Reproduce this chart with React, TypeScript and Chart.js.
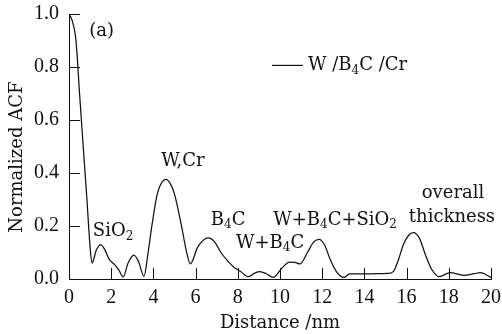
import { useEffect, useRef } from "react";
import { Chart, registerables } from "chart.js";

Chart.register(...registerables);

// Distance (nm) and normalized autocorrelation of the W/B4C/Cr multilayer
const distance = [
  0, 0.15, 0.33, 0.5, 0.7, 0.85, 1.0, 1.09, 1.3, 1.5, 1.7, 1.9, 2.15, 2.35, 2.57,
  2.8, 3.08, 3.3, 3.55, 3.75, 3.92, 4.19, 4.4, 4.6, 4.8, 4.99, 5.34, 5.55, 5.75,
  6.1, 6.6, 6.9, 7.2, 7.5, 7.8, 8.1, 8.5, 8.8, 9.05, 9.35, 9.68, 10.08, 10.45,
  10.7, 10.95, 11.3, 11.6, 11.86, 12.1, 12.4, 12.7, 13.03, 13.3, 14.0, 14.6, 15.1,
  15.37, 15.6, 15.85, 16.1, 16.32, 16.6, 16.9, 17.2, 17.55, 18.06, 18.7, 19.2,
  19.5, 20.0,
];
const acf = [
  1.0, 0.975, 0.9, 0.7, 0.47, 0.3, 0.12, 0.06, 0.11, 0.13, 0.11, 0.075, 0.055,
  0.035, 0.008, 0.06, 0.09, 0.065, 0.01, 0.1, 0.197, 0.323, 0.365, 0.376, 0.36,
  0.323, 0.197, 0.11, 0.057, 0.12, 0.155, 0.14, 0.1, 0.07, 0.045, 0.03, 0.009,
  0.022, 0.028, 0.02, 0.006, 0.04, 0.064, 0.063, 0.057, 0.1, 0.14, 0.15, 0.13,
  0.07, 0.025, 0.006, 0.019, 0.019, 0.02, 0.021, 0.028, 0.07, 0.13, 0.165, 0.175,
  0.155, 0.09, 0.035, 0.009, 0.024, 0.014, 0.02, 0.024, 0.006,
];

const xTickValues = [0, 2, 4, 6, 8, 10, 12, 14, 16, 18, 20];
const yTickValues = [0, 0.2, 0.4, 0.6, 0.8, 1.0];

const xTitle = "Distance /nm";
const yTitle = "Normalized ACF";

const seriesName = [
  { t: "W /B" },
  { t: "4", sub: true },
  { t: "C /Cr" },
];

type Seg = { t: string; sub?: boolean };
type Note = { x: number; y: number; segs: Seg[] };

// Peak labels, anchored in data coordinates (text centre)
const notes: Note[] = [
  { x: 1.55, y: 0.936, segs: [{ t: "(a)" }] },
  { x: 2.09, y: 0.181, segs: [{ t: "SiO" }, { t: "2", sub: true }] },
  { x: 5.4, y: 0.445, segs: [{ t: "W,Cr" }] },
  { x: 7.54, y: 0.223, segs: [{ t: "B" }, { t: "4", sub: true }, { t: "C" }] },
  { x: 9.53, y: 0.136, segs: [{ t: "W+B" }, { t: "4", sub: true }, { t: "C" }] },
  {
    x: 12.61,
    y: 0.223,
    segs: [{ t: "W+B" }, { t: "4", sub: true }, { t: "C+SiO" }, { t: "2", sub: true }],
  },
  { x: 18.2, y: 0.325, segs: [{ t: "overall" }] },
  { x: 18.15, y: 0.234, segs: [{ t: "thickness" }] },
];

const FONT = "'DejaVu Serif', 'Liberation Serif', serif";
const NUM_FONT = "'Liberation Serif', 'DejaVu Serif', serif";
const INK = "#111";
const TEXT_SIZE = 18;

function drawRich(
  ctx: CanvasRenderingContext2D,
  segs: Seg[],
  x: number,
  y: number,
  size: number,
  align: "center" | "left"
) {
  const subSize = Math.round(size * 0.68);
  let total = 0;
  for (const s of segs) {
    ctx.font = `${s.sub ? subSize : size}px ${FONT}`;
    total += ctx.measureText(s.t).width;
  }
  let cx = align === "center" ? x - total / 2 : x;
  ctx.textAlign = "left";
  ctx.textBaseline = "middle";
  for (const s of segs) {
    ctx.font = `${s.sub ? subSize : size}px ${FONT}`;
    ctx.fillText(s.t, cx, s.sub ? y + size * 0.3 : y);
    cx += ctx.measureText(s.t).width;
  }
}

const decorations = {
  id: "decorations",
  afterDraw(chart: any) {
    const { ctx, scales } = chart;
    const xs = scales.x;
    const ys = scales.y;
    const tick = 11;
    ctx.save();
    ctx.strokeStyle = INK;
    ctx.lineWidth = 1;
    // inward tick marks
    ctx.beginPath();
    for (const v of xTickValues) {
      if (v === 0) continue;
      const px = Math.round(xs.getPixelForValue(v)) + 0.5;
      ctx.moveTo(px, ys.bottom);
      ctx.lineTo(px, ys.bottom - tick);
    }
    for (const v of yTickValues) {
      if (v === 0) continue;
      const py = Math.round(ys.getPixelForValue(v)) + 0.5;
      ctx.moveTo(xs.left, py);
      ctx.lineTo(xs.left + tick, py);
    }
    ctx.stroke();

    ctx.fillStyle = INK;

    // vertical axis title, sitting slightly below the axis mid-point
    ctx.save();
    ctx.translate(17, ys.getPixelForValue(0.46));
    ctx.rotate(-Math.PI / 2);
    ctx.font = `${TEXT_SIZE}px ${FONT}`;
    ctx.textAlign = "center";
    ctx.textBaseline = "middle";
    ctx.fillText(yTitle, 0, 0);
    ctx.restore();

    // labels
    for (const n of notes) {
      drawRich(ctx, n.segs, xs.getPixelForValue(n.x), ys.getPixelForValue(n.y), TEXT_SIZE, "center");
    }

    // legend entry
    const ly = ys.getPixelForValue(0.806);
    ctx.beginPath();
    ctx.lineWidth = 1.2;
    ctx.moveTo(xs.getPixelForValue(9.62), ly);
    ctx.lineTo(xs.getPixelForValue(11.09), ly);
    ctx.stroke();
    drawRich(ctx, seriesName, xs.getPixelForValue(11.33), ly, TEXT_SIZE, "left");
    ctx.restore();
  },
};

export default function App() {
  const ref = useRef<HTMLCanvasElement | null>(null);

  useEffect(() => {
    document.body.style.margin = "0";
    const canvas = ref.current;
    if (!canvas) return;
    const chart = new Chart(canvas, {
      type: "line",
      data: {
        datasets: [
          {
            label: "W /B4C /Cr",
            data: distance.map((d, i) => ({ x: d, y: acf[i] })),
            borderColor: INK,
            borderWidth: 1.25,
            pointRadius: 0,
            cubicInterpolationMode: "monotone",
            fill: false,
          },
        ],
      },
      options: {
        responsive: false,
        animation: false,
        devicePixelRatio: 1,
        layout: { padding: { top: 14, right: 11, left: 0, bottom: 0 } },
        plugins: {
          legend: { display: false },
          tooltip: { enabled: false },
        },
        scales: {
          x: {
            type: "linear",
            min: 0,
            max: 20,
            afterBuildTicks: (s: any) => {
              s.ticks = xTickValues.map((v) => ({ value: v }));
            },
            afterFit: (s: any) => {
              s.height = 55;
              s.paddingLeft = 0;
              s.paddingRight = 0;
            },
            grid: { display: false, drawTicks: false },
            border: { display: true, color: INK, width: 1 },
            ticks: {
              color: INK,
              padding: 7,
              maxRotation: 0,
              font: { family: NUM_FONT, size: 20 },
            },
            title: {
              display: true,
              text: xTitle,
              color: INK,
              font: { family: FONT, size: TEXT_SIZE },
              padding: { top: 0, bottom: 0 },
            },
          },
          y: {
            type: "linear",
            min: 0,
            max: 1,
            afterBuildTicks: (s: any) => {
              s.ticks = yTickValues.map((v) => ({ value: v }));
            },
            afterFit: (s: any) => {
              s.width = 69;
              s.paddingTop = 0;
              s.paddingBottom = 0;
            },
            grid: { display: false, drawTicks: false },
            border: { display: true, color: INK, width: 1 },
            ticks: {
              color: INK,
              padding: 10,
              font: { family: NUM_FONT, size: 20 },
              callback: (v: any) => Number(v).toFixed(1),
            },
            title: { display: false },
          },
        },
      },
      plugins: [decorations],
    });
    return () => chart.destroy();
  }, []);

  return (
    <div style={{ width: 502, height: 334 }}>
      <canvas ref={ref} width={502} height={334} style={{ display: "block" }} />
    </div>
  );
}
